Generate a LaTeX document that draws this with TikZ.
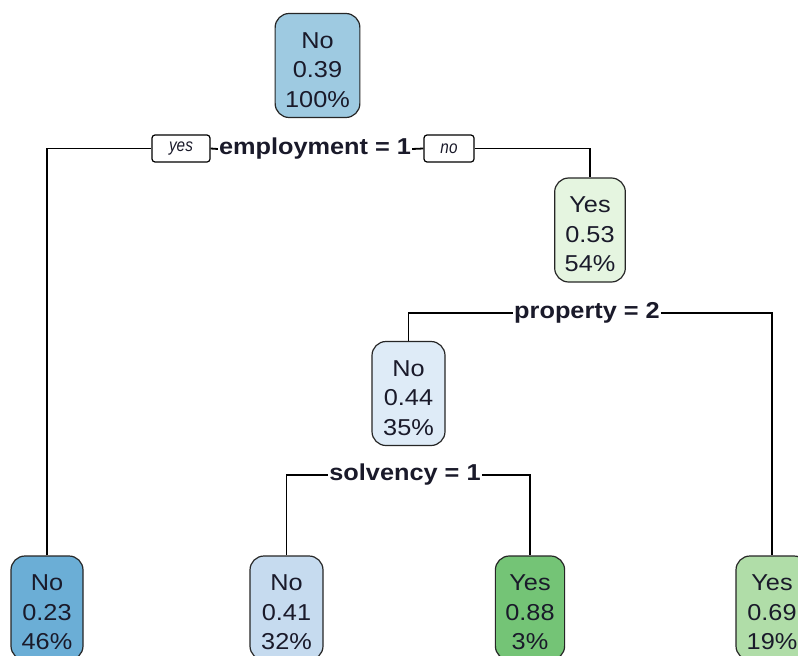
\documentclass[tikz,border=0pt]{standalone}
\usepackage{fontspec}
\setmainfont{Liberation Sans}
\newfontfamily\nodefont[FakeStretch=1.1]{Liberation Sans}
\newfontfamily\tagfont[FakeStretch=0.85]{Liberation Sans}
\definecolor{cRoot}{HTML}{9ECAE1}
\definecolor{cLeafA}{HTML}{6BAED6}
\definecolor{cMidB}{HTML}{DEEBF7}
\definecolor{cLeafB}{HTML}{C6DBEF}
\definecolor{cMidY}{HTML}{E5F5E0}
\definecolor{cLeafC}{HTML}{74C476}
\definecolor{cLeafD}{HTML}{B0DDA8}
\definecolor{txt}{HTML}{1A1A2A}
\newcommand{\topstrut}{\rule{0pt}{25pt}}
\tikzset{
  treenode/.style={draw=black!85, line width=1.2pt, rounded corners=14pt,
    minimum width=72pt, minimum height=104pt, inner xsep=10pt,
    align=center, text=txt, font=\nodefont\fontsize{23}{29.5}\selectfont},
  splitlab/.style={fill=white, inner sep=1pt, text=txt,
    font=\nodefont\bfseries\fontsize{23}{26}\selectfont},
  tagbox/.style={draw=black, line width=1.2pt, fill=white, rounded corners=3pt,
    minimum height=27pt, inner xsep=6pt, text=txt,
    font=\tagfont\itshape\fontsize{18}{20}\selectfont},
  edge/.style={draw=black, line width=1.8pt}
}
\begin{document}
\begin{tikzpicture}[x=1pt,y=-1pt]
\path[use as bounding box, clip] (0,0) rectangle (798,656);
\fill[white] (0,0) rectangle (798,656);

% nodes
\node[treenode, fill=cRoot]  (root)  at (317.5,65.5) {\topstrut No\\0.39\\100\%};
\node[treenode, fill=cMidY, minimum width=70pt]  (n2) at (590,230) {\topstrut Yes\\0.53\\54\%};
\node[treenode, fill=cMidB, minimum width=73pt]  (n3) at (408.5,393.5) {\topstrut No\\0.44\\35\%};
\node[treenode, fill=cLeafA] (leafA) at (47,608) {\topstrut No\\0.23\\46\%};
\node[treenode, fill=cLeafB, minimum width=73pt] (leafB) at (286.5,608) {\topstrut No\\0.41\\32\%};
\node[treenode, fill=cLeafC, minimum width=68pt] (leafC) at (530,608) {\topstrut Yes\\0.88\\3\%};
\node[treenode, fill=cLeafD] (leafD) at (772,608) {\topstrut Yes\\0.69\\19\%};

% split labels
\node[splitlab] (s1) at (315,149) {employment = 1};
\node[tagbox, minimum width=58pt] (yes) at (181,148.5) {yes};
\node[tagbox, minimum width=50pt] (no)  at (449,148.5) {no};
\node[splitlab] (s2) at (587,313) {property = 2};
\node[splitlab] (s3) at (405,475) {solvency = 1};

% connectors
\draw[edge] (leafA.north) |- (yes.west);
\draw[edge] (yes.east) -- (s1.west);
\draw[edge] (s1.east) -- (no.west);
\draw[edge] (no.east) -| (n2.north);

\draw[edge] (n3.north) |- (s2.west);
\draw[edge] (s2.east) -| (leafD.north);

\draw[edge] (leafB.north) |- (s3.west);
\draw[edge] (s3.east) -| (leafC.north);
\end{tikzpicture}
\end{document}
